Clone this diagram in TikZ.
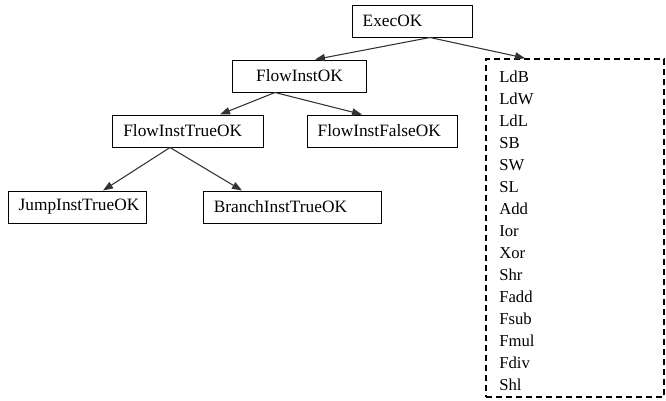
\documentclass[tikz,border=0pt]{standalone}
\usepackage{fontspec}
\setmainfont{Liberation Serif}
\usetikzlibrary{arrows.meta,calc}

\begin{document}
\begin{tikzpicture}[
  x=0.75pt,y=-0.75pt,
  box/.style={rectangle,draw,line width=0.75pt,minimum height=24pt,inner xsep=8pt,align=left,font=\fontsize{13}{15}\selectfont},
  oplist/.style={rectangle,draw,dashed,line width=1.3pt,dash pattern=on 4.5pt off 3pt,minimum width=133.5pt,minimum height=253.5pt},
  opitem/.style={anchor=west,inner sep=0pt,font=\fontsize{12.5}{14}\selectfont},
  arrow/.style={-{Triangle[length=7.5pt,width=5.5pt]},line width=0.8pt,draw=black!80},
]
\useasboundingbox (0,0) rectangle (666,400);

\node[box,text width=74pt] (exec) at (412,21) {ExecOK};
\node[box,text width=85pt,align=center] (flow) at (299.5,76) {FlowInstOK};
\node[box,text width=97pt] (true) at (188,131) {FlowInstTrueOK};
\node[box,text width=96.5pt] (false) at (382,131) {FlowInstFalseOK};
\node[box,text width=87.5pt] (jump) at (77,207) {JumpInstTrueOK};
\node[box,text width=118pt] (branch) at (292.5,207) {BranchInstTrueOK};

% instruction list
\node[oplist] (ops) at (575,228) {};
\foreach \op [count=\i from 0] in {LdB,LdW,LdL,SB,SW,SL,Add,Ior,Xor,Shr,Fadd,Fsub,Fmul,Fdiv,Shl}
  \node[opitem] (op\i) at (499,{77+22*\i}) {\op};

\draw[arrow] ($(exec.south)+(18,0)$) -- ($(flow.north)+(15.5,0)$);
\draw[arrow] ($(exec.south)+(18,0)$) -- ($(ops.north)+(-50,0)$);
\draw[arrow] ($(flow.south)+(-24.5,0)$) -- ($(true.north)+(32,0)$);
\draw[arrow] ($(flow.south)+(-24.5,0)$) -- ($(false.north)+(-20,0)$);
\draw[arrow] ($(true.south)+(-18,0)$) -- ($(jump.north)+(26,0)$);
\draw[arrow] ($(true.south)+(-18,0)$) -- ($(branch.north)+(-50.5,0)$);
\end{tikzpicture}
\end{document}
